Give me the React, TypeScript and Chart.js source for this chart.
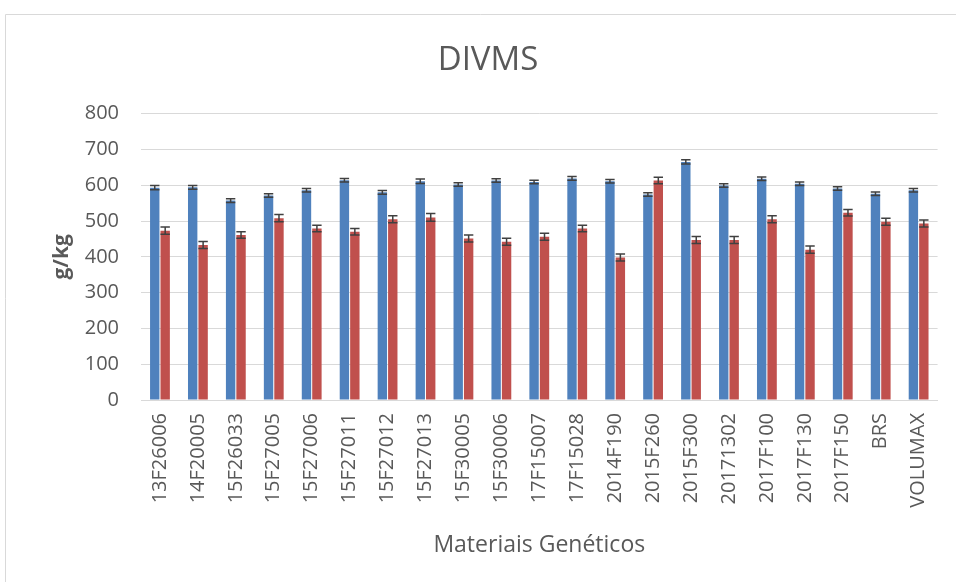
import React, { useEffect, useRef } from "react";
import { Chart, registerables } from "chart.js";

Chart.register(...registerables);

const categories = [
  "13F26006", "14F20005", "15F26033", "15F27005", "15F27006", "15F27011", "15F27012",
  "15F27013", "15F30005", "15F30006", "17F15007", "17F15028", "2014F190", "2015F260",
  "2015F300", "20171302", "2017F100", "2017F130", "2017F150", "BRS", "VOLUMAX",
];
const seriesBlue = [593, 594, 557, 571, 586, 614, 580, 611, 602, 613, 609, 619, 611, 574, 665, 599, 618, 604, 591, 576, 586];
const seriesRed = [473, 433, 461, 508, 479, 470, 505, 510, 451, 442, 456, 479, 398, 613, 447, 447, 505, 420, 523, 498, 493];
const errBlue = [6, 5, 5, 5, 5, 5, 5, 6, 5, 5, 5, 5, 5, 5, 6, 5, 5, 5, 5, 5, 5];
const errRed = [10, 10, 9, 10, 9, 9, 10, 11, 10, 10, 10, 9, 10, 9, 10, 10, 10, 10, 9, 10, 10];
const errors = [errBlue, errRed];

const TEXT = "#595959";
const FONT = "'Open Sans', sans-serif";

const errorBarPlugin = {
  id: "errorBars",
  afterDatasetsDraw(chart: any) {
    const ctx = chart.ctx;
    const yScale = chart.scales.y;
    ctx.save();
    ctx.strokeStyle = "#404040";
    ctx.lineWidth = 1.5;
    chart.data.datasets.forEach((ds: any, i: number) => {
      const meta = chart.getDatasetMeta(i);
      meta.data.forEach((el: any, j: number) => {
        const v = ds.data[j];
        const e = errors[i][j];
        const x = el.x;
        const yT = yScale.getPixelForValue(v + e);
        const yB = yScale.getPixelForValue(v - e);
        const hw = el.width / 2;
        ctx.beginPath();
        ctx.moveTo(x, yT);
        ctx.lineTo(x, yB);
        ctx.moveTo(x - hw, yT);
        ctx.lineTo(x + hw, yT);
        ctx.moveTo(x - hw, yB);
        ctx.lineTo(x + hw, yB);
        ctx.stroke();
      });
    });
    ctx.restore();
  },
};

const framePlugin = {
  id: "frame",
  beforeDraw(chart: any) {
    const ctx = chart.ctx;
    ctx.save();
    ctx.strokeStyle = "#d9d9d9";
    ctx.lineWidth = 1;
    ctx.beginPath();
    ctx.moveTo(5.5, chart.height);
    ctx.lineTo(5.5, 14.5);
    ctx.lineTo(chart.width, 14.5);
    ctx.stroke();
    ctx.restore();
  },
};

export default function App() {
  const ref = useRef<HTMLCanvasElement | null>(null);
  useEffect(() => {
    if (!ref.current) return;
    const chart = new Chart(ref.current, {
      type: "bar",
      data: {
        labels: categories,
        datasets: [
          { label: "Série 1", data: seriesBlue, backgroundColor: "#4f81bd", borderWidth: 0 },
          { label: "Série 2", data: seriesRed, backgroundColor: "#c0504d", borderWidth: 0 },
        ],
      },
      options: {
        responsive: false,
        animation: false,
        layout: { padding: { left: 36, right: 16, top: 0, bottom: 0 } },
        datasets: { bar: { categoryPercentage: 0.55, barPercentage: 0.9 } },
        plugins: {
          legend: { display: false },
          tooltip: { enabled: false },
          title: {
            display: true,
            text: "DIVMS",
            color: TEXT,
            font: { family: FONT, size: 33, weight: "normal" },
            padding: { top: 41, bottom: 33 },
          },
        },
        scales: {
          x: {
            grid: { display: false, drawTicks: false },
            border: { display: true, color: "#d9d9d9", width: 1 },
            ticks: {
              color: TEXT,
              font: { family: FONT, size: 20 },
              minRotation: 90,
              maxRotation: 90,
              autoSkip: false,
              padding: 13,
            },
            title: {
              display: true,
              text: "Materiais Genéticos",
              color: TEXT,
              font: { family: FONT, size: 23 },
              padding: { top: 4, bottom: 23 },
            },
            afterFit(scale: any) {
              scale.height = 182;
            },
          },
          y: {
            min: 0,
            max: 800,
            grid: { color: "#d9d9d9", drawTicks: false },
            border: { display: false },
            ticks: {
              stepSize: 100,
              color: TEXT,
              font: { family: FONT, size: 20 },
              padding: 22,
            },
            title: {
              display: true,
              text: "g/kg",
              color: TEXT,
              font: { family: FONT, size: 21, weight: "bold" },
              padding: { top: 13, bottom: 0 },
            },
            afterFit(scale: any) {
              scale.width = 105;
            },
          },
        },
      },
      plugins: [errorBarPlugin, framePlugin],
    });
    return () => chart.destroy();
  }, []);
  return (
    <canvas
      ref={ref}
      width={956}
      height={582}
      style={{ position: "fixed", left: 0, top: 0, width: 956, height: 582, display: "block" }}
    />
  );
}
